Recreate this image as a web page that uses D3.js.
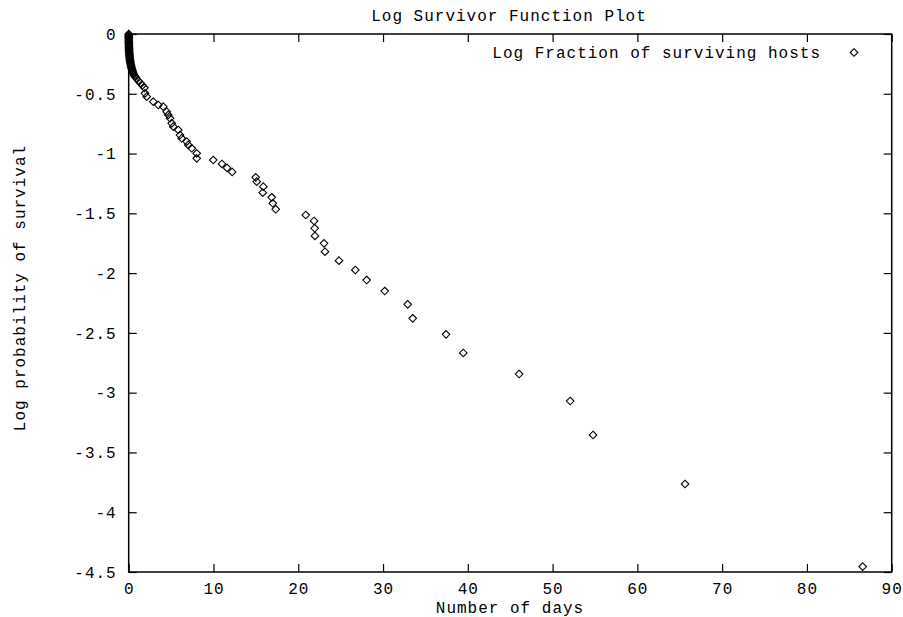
<!DOCTYPE html>
<html>
<head>
<meta charset="utf-8">
<script src="https://cdn.jsdelivr.net/npm/d3@7"></script>
<style>
  html, body { margin: 0; padding: 0; background: #fff; }
  text { font-family: "Liberation Mono", "Courier New", monospace; font-size: 16px; letter-spacing: 1px; fill: #000; }
</style>
</head>
<body>
<svg id="chart" width="903" height="617"></svg>
<script>
const days = [
  0, 0, 0, 0, 0.01, 0.01, 0.01, 0.02, 0.02, 0.02,
  0.03, 0.03, 0.04, 0.04, 0.05, 0.06, 0.07, 0.08, 0.09, 0.10,
  0.12, 0.14, 0.16, 0.18, 0.20, 0.23, 0.26, 0.29, 0.32, 0.36,
  0.40, 0.45, 0.50, 0.55, 0.60, 0.68, 0.78, 0.90, 1.13,
  1.38, 1.62, 1.85,
  1.92, 2.12, 2.90, 3.49, 4.08, 4.48, 4.67, 4.87, 5.07, 5.26,
  5.85, 6.05, 6.25, 6.84, 7.03, 7.43, 8.02, 8.02,
  9.97, 11.0, 11.6, 12.2, 14.98, 15.10, 15.88, 15.81, 16.87, 16.99,
  17.34, 20.88, 21.86, 21.94, 21.97, 23.04, 23.15, 24.8, 26.73, 28.07,
  30.2, 32.91, 33.5, 37.43, 39.46, 46.05, 52.07, 54.77, 65.62, 86.58
];
const logSurvival = [
  0, -0.01, -0.02, -0.03, -0.04, -0.05, -0.06, -0.07, -0.08, -0.09,
  -0.10, -0.11, -0.12, -0.13, -0.14, -0.15, -0.16, -0.17, -0.18, -0.19,
  -0.20, -0.21, -0.22, -0.23, -0.24, -0.25, -0.26, -0.27, -0.28, -0.29,
  -0.30, -0.31, -0.32, -0.33, -0.34, -0.35, -0.36, -0.37, -0.39,
  -0.41, -0.43, -0.45,
  -0.496, -0.524, -0.566, -0.594, -0.608, -0.65, -0.677, -0.705, -0.747, -0.775,
  -0.803, -0.845, -0.872, -0.90, -0.928, -0.956, -0.998, -1.04,
  -1.054, -1.087, -1.12, -1.154, -1.199, -1.235, -1.277, -1.327, -1.366, -1.416,
  -1.466, -1.514, -1.564, -1.625, -1.689, -1.751, -1.821, -1.896, -1.974, -2.058,
  -2.15, -2.261, -2.378, -2.512, -2.668, -2.844, -3.07, -3.354, -3.764, -4.455
];
const xTicks = [0, 10, 20, 30, 40, 50, 60, 70, 80, 90];
const yTicks = [0, -0.5, -1, -1.5, -2, -2.5, -3, -3.5, -4, -4.5];
const titleText = "Log Survivor Function Plot";
const xLabel = "Number of days";
const yLabel = "Log probability of survival";
const legendLabel = "Log Fraction of surviving hosts";

const svg = d3.select("#chart");
const L = 128.7, R = 891.7, T = 34, B = 572;
const x = d3.scaleLinear().domain([0, 90]).range([L, R]);
const y = d3.scaleLinear().domain([-4.5, 0]).range([B, T]);

const diamond = r => `M0,${-r}L${r},0L0,${r}L${-r},0Z`;

// mirrored inward ticks (top / right), no labels
svg.append("g").attr("transform", `translate(0,${T})`)
  .call(d3.axisTop(x).tickValues(xTicks).tickSize(-8).tickFormat(""))
  .call(g => g.select(".domain").remove());
svg.append("g").attr("transform", `translate(${R},0)`)
  .call(d3.axisRight(y).tickValues(yTicks).tickSize(-8).tickFormat(""))
  .call(g => g.select(".domain").remove());

// bottom axis
const gx = svg.append("g").attr("transform", `translate(0,${B})`)
  .call(d3.axisBottom(x).tickValues(xTicks).tickSize(-8).tickFormat(d3.format("d")));
gx.select(".domain").remove();
gx.selectAll(".tick text").attr("y", 21.5).attr("dy", 0).style("font-size", "16px")
  .style("font-family", '"Liberation Mono", monospace');

// left axis
const gy = svg.append("g").attr("transform", `translate(${L},0)`)
  .call(d3.axisLeft(y).tickValues(yTicks).tickSize(-8).tickFormat(d => String(d).replace("−", "-")));
gy.select(".domain").remove();
gy.selectAll(".tick text").attr("x", -12).attr("dy", "0.33em").style("font-size", "16px")
  .style("font-family", '"Liberation Mono", monospace');

svg.selectAll(".tick line").attr("stroke", "#000").attr("stroke-width", 1.2);

// border
svg.append("rect").attr("x", L).attr("y", T).attr("width", R - L).attr("height", B - T)
  .attr("fill", "none").attr("stroke", "#000").attr("stroke-width", 1.5);

// points
const pts = days.map((d, i) => ({ d, v: logSurvival[i] }));
svg.append("g").selectAll("path").data(pts).join("path")
  .attr("d", diamond(3.8))
  .attr("transform", p => `translate(${x(p.d)},${y(p.v)})`)
  .attr("fill", "none").attr("stroke", "#000").attr("stroke-width", 1.1);

// title
svg.append("text").attr("x", 509).attr("y", 20.5).attr("text-anchor", "middle").text(titleText);
// x label
svg.append("text").attr("x", 510).attr("y", 612.5).attr("text-anchor", "middle").text(xLabel);
// y label
svg.append("text").attr("transform", "translate(25,288) rotate(-90)").attr("text-anchor", "middle").text(yLabel);

// legend
svg.append("text").attr("x", 821).attr("y", 57.5).attr("text-anchor", "end").text(legendLabel);
svg.append("path").attr("d", diamond(3.8)).attr("transform", "translate(854,52.5)")
  .attr("fill", "none").attr("stroke", "#000").attr("stroke-width", 1.1);
</script>
</body>
</html>
